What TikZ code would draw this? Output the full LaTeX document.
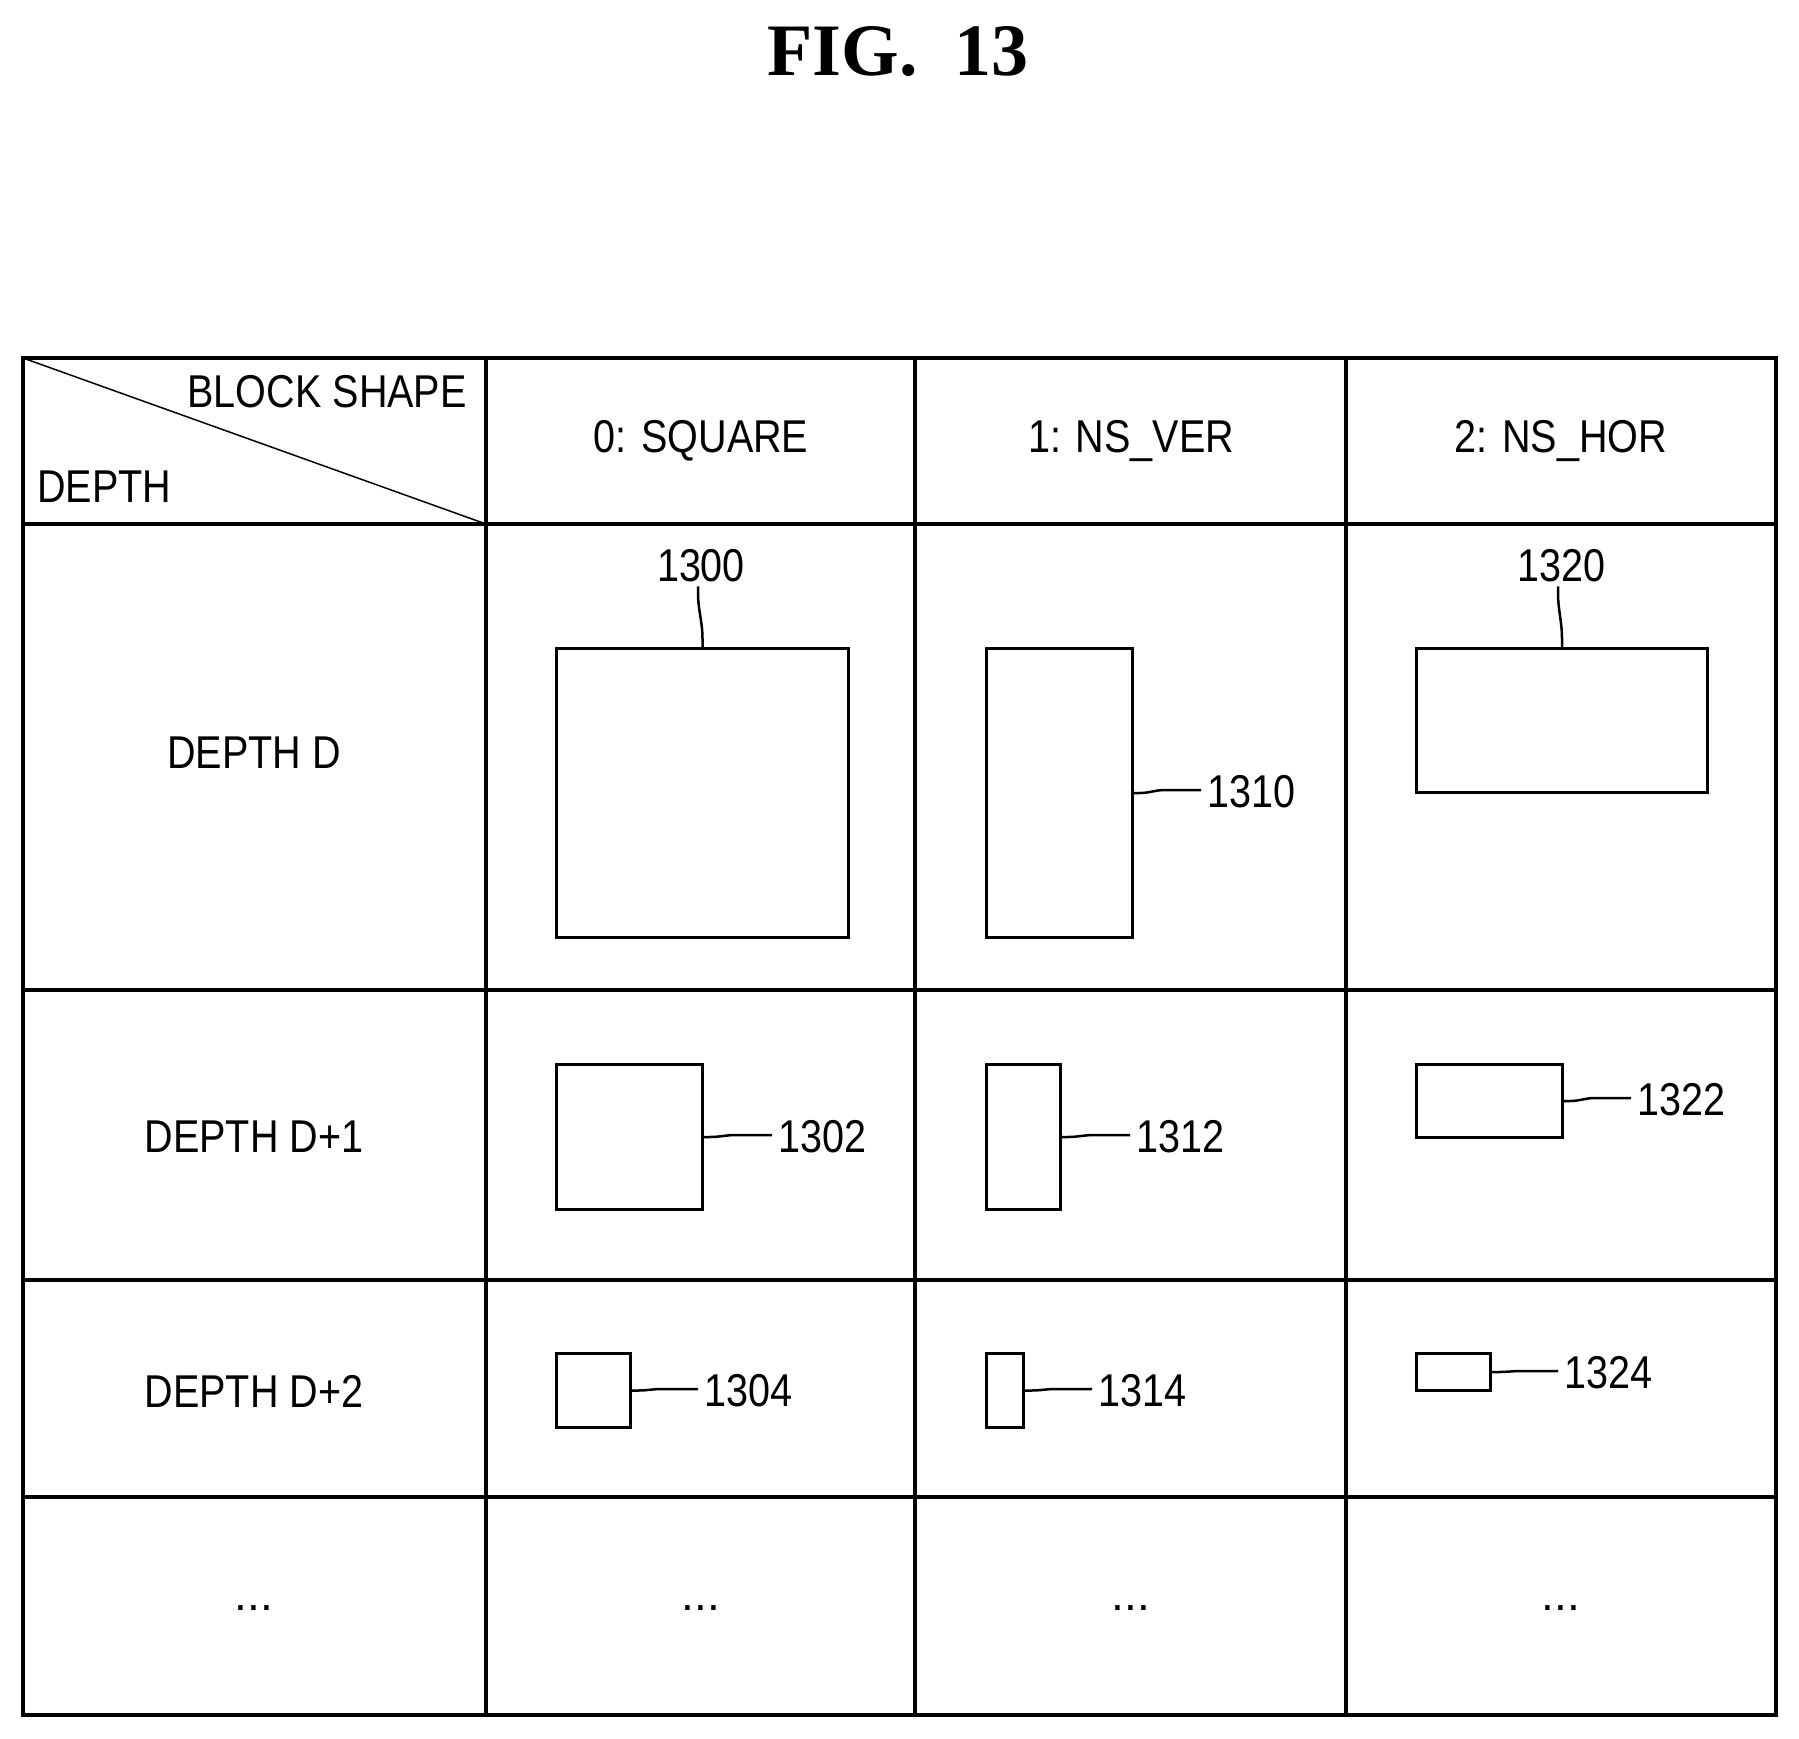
\documentclass[tikz,border=0pt]{standalone}
\usepackage{fontspec}
\setmainfont{Liberation Sans}
\newfontfamily\titlefont{Liberation Serif}
\newcommand{\sq}[1]{\scalebox{0.86}[1]{#1}}
\begin{document}
\begin{tikzpicture}[x=1pt,y=-1pt,
  grid/.style={line width=3.5pt},
  blk/.style={draw,line width=3pt,inner sep=0pt,anchor=north west},
  txt/.style={font=\fontsize{46}{50}\selectfont,inner sep=0pt},
  lead/.style={line width=2.5pt}]
\useasboundingbox (0,0) rectangle (1799,1738);
\node[font=\titlefont\bfseries\fontsize{74}{80}\selectfont] (title) at (898,52) {FIG.\enspace 13};
% grid
\draw[grid] (23,358) rectangle (1776,1715);
\foreach \x in {486,915,1346} \draw[grid] (\x,358) -- (\x,1715);
\foreach \y in {524,990,1280,1497} \draw[grid] (23,\y) -- (1776,\y);
\draw[line width=1.5pt] (23,358) -- (486,524);
\node[txt,anchor=east] (bs) at (467,392) {\sq{BLOCK SHAPE}};
\node[txt,anchor=west] (dp) at (37,487) {\sq{DEPTH}};
\node[txt] (h0) at (701,441) {\sq{0: SQUARE}};
\node[txt] (h1) at (1131,441) {\sq{1: NS\_VER}};
\node[txt] (h2) at (1561,441) {\sq{2: NS\_HOR}};
\node[txt] (r0) at (254,753) {\sq{DEPTH D}};
\node[txt] (r1) at (254,1137) {\sq{DEPTH D+1}};
\node[txt] (r2) at (254,1391) {\sq{DEPTH D+2}};
\foreach \x/\n in {254/a,701/b,1131/c,1561/d} \node[txt] (dots\n) at (\x,1608) {...};
% blocks
\node[blk,minimum width=292pt,minimum height=289pt] (b1300) at (555,647) {};
\node[blk,minimum width=146pt,minimum height=289pt] (b1310) at (985,647) {};
\node[blk,minimum width=291pt,minimum height=144pt] (b1320) at (1415,647) {};
\node[blk,minimum width=146pt,minimum height=145pt] (b1302) at (555,1063) {};
\node[blk,minimum width=74pt,minimum height=145pt] (b1312) at (985,1063) {};
\node[blk,minimum width=146pt,minimum height=73pt] (b1322) at (1415,1063) {};
\node[blk,minimum width=74pt,minimum height=74pt] (b1304) at (555,1352) {};
\node[blk,minimum width=37pt,minimum height=74pt] (b1314) at (985,1352) {};
\node[blk,minimum width=74pt,minimum height=37pt] (b1324) at (1415,1352) {};
% labels
\node[txt] (l1300) at (701,566) {\sq{1300}};
\node[txt] (l1320) at (1561,566) {\sq{1320}};
\node[txt,anchor=west] (l1310) at (1207,792) {\sq{1310}};
\node[txt,anchor=west] (l1302) at (778,1137) {\sq{1302}};
\node[txt,anchor=west] (l1312) at (1136,1137) {\sq{1312}};
\node[txt,anchor=west] (l1322) at (1637,1100) {\sq{1322}};
\node[txt,anchor=west] (l1304) at (704,1391) {\sq{1304}};
\node[txt,anchor=west] (l1314) at (1098,1391) {\sq{1314}};
\node[txt,anchor=west] (l1324) at (1564,1373) {\sq{1324}};
% leaders
\foreach \b/\l in {b1300/l1300,b1320/l1320}
  \draw[lead] (\b.north) -- ++(0,-8) to[out=90,in=-90] ([xshift=-3pt,yshift=-10pt]\l.south) -- ([xshift=-3pt,yshift=-4pt]\l.south);
\foreach \b/\l in {b1310/l1310,b1302/l1302,b1312/l1312,b1322/l1322,b1304/l1304,b1314/l1314,b1324/l1324}
  \draw[lead] (\b.east) -- ++(6,0) to[out=0,in=180] ([xshift=-42pt,yshift=2pt]\l.west) -- ([xshift=-6pt,yshift=2pt]\l.west);
\end{tikzpicture}
\end{document}
